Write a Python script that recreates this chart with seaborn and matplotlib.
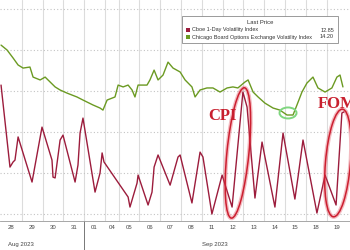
import matplotlib
matplotlib.use("Agg")
import matplotlib.pyplot as plt
import matplotlib.transforms as mtransforms
from matplotlib.patches import Ellipse, Rectangle
import pandas as pd
import seaborn as sns

# ---- data (x = session position, one unit per trading day; Sep 04 is a short holiday session)
day_labels = ["28", "29", "30", "31", "01", "04", "05", "06", "07", "08",
              "11", "12", "13", "14", "15", "18", "19"]
day_widths = [1, 1, 1, 1, 1, 0.65, 1, 1, 1, 1, 1, 1, 1, 1, 1, 1, 1]
month_labels = ["Aug 2023", "Sep 2023"]
month_first_day = [0, 4]

vix_t = [0.0, 0.29, 0.58, 0.82, 1.06, 1.39, 1.54, 1.88, 2.12, 2.36, 2.60, 2.84, 3.17,
         3.65, 3.94, 4.42, 4.76, 4.90, 5.10, 5.48, 5.63, 5.87, 6.11, 6.30, 6.44, 6.59,
         7.02, 7.16, 7.36, 7.55, 7.79, 8.03, 8.27, 8.61, 8.85, 9.18, 9.33, 9.57, 9.90,
         10.19, 10.53, 10.87, 11.15, 11.39, 11.73, 11.88, 12.12, 12.36, 12.69, 13.08,
         13.41, 13.75, 14.04, 14.23, 14.47, 14.71, 15.00, 15.24, 15.58, 15.91, 16.15,
         16.30, 16.44]
vix_v = [16.24, 16.00, 15.61, 15.27, 15.12, 15.17, 14.68, 14.54, 14.68, 14.44, 14.20,
         14.05, 13.90, 13.71, 13.56, 13.32, 13.17, 13.07, 13.56, 13.71, 14.29, 14.20,
         14.29, 14.05, 13.71, 14.29, 14.29, 14.54, 15.02, 14.54, 14.78, 15.41, 15.12,
         14.93, 14.54, 14.20, 13.71, 14.05, 14.15, 14.15, 13.95, 14.15, 14.20, 14.15,
         14.44, 14.54, 13.95, 13.71, 13.41, 13.17, 13.07, 12.83, 12.83, 13.32, 13.95,
         14.39, 14.68, 14.15, 13.95, 14.15, 14.68, 14.78, 14.20]

vix1d_t = [0.0, 0.43, 0.58, 0.67, 0.82, 1.49, 1.97, 2.45, 2.50, 2.60, 2.84, 2.98, 3.56,
           3.70, 3.80, 3.94, 4.52, 4.76, 4.86, 4.95, 6.11, 6.20, 6.54, 6.59, 7.07, 7.26,
           7.36, 7.55, 8.13, 8.51, 8.61, 9.18, 9.57, 9.71, 10.14, 10.63, 11.11, 11.63,
           11.83, 12.21, 12.55, 12.69, 13.17, 13.56, 14.13, 14.28, 14.52, 15.19, 15.58,
           16.11, 16.39, 16.49]
vix1d_v = [14.29, 10.29, 10.54, 10.63, 11.76, 9.56, 12.24, 10.63, 9.80, 9.76, 11.61,
           11.85, 9.56, 10.39, 11.95, 12.68, 9.07, 10.00, 10.98, 10.54, 8.83, 8.34, 9.51,
           9.90, 8.44, 9.07, 10.29, 10.88, 9.41, 10.78, 10.88, 8.54, 11.02, 10.78, 8.00,
           9.90, 8.34, 13.95, 13.22, 8.78, 11.51, 10.78, 8.34, 11.95, 8.73, 9.80, 11.61,
           8.05, 9.90, 8.44, 12.93, 12.98]

series_names = ["Cboe 1-Day Volatility Index",
                "Chicago Board Options Exchange Volatility Index"]
last_prices = ["12.85", "14.20"]
y_grid = [8, 10, 12, 14, 16, 18]

RED = "#9c1c3c"
GREEN = "#6b9a22"

df = pd.concat([
    pd.DataFrame({"t": vix1d_t, "v": vix1d_v, "s": series_names[0]}),
    pd.DataFrame({"t": vix_t, "v": vix_v, "s": series_names[1]}),
])

sns.set_style("white")
plt.rcParams["font.family"] = ["Liberation Sans", "DejaVu Sans"]

fig = plt.figure(figsize=(3.5, 2.5), dpi=100)
ax = fig.add_axes([0.0, 0.116, 1.0, 0.884])

# grid
edges = [0.0]
for w in day_widths:
    edges.append(edges[-1] + w)
centers = [(edges[i] + edges[i + 1]) / 2 for i in range(len(day_widths))]
for e in edges[1:-1]:
    ax.axvline(e, color="#dcdcdc", lw=0.8, zorder=0)
for g in y_grid:
    ax.axhline(g, color="#c4c4c4", lw=0.8, ls=(0, (1, 2)), zorder=0)

sns.lineplot(data=df, x="t", y="v", hue="s", palette=[RED, GREEN],
             estimator=None, sort=False, legend=False, lw=1.0, ax=ax)

ax.set_xlim(-0.05, 16.78)
ax.set_ylim(7.66, 18.44)
ax.set_xlabel("")
ax.set_ylabel("")
ax.set_yticks([])
ax.set_xticks(edges[1:-1])
ax.set_xticklabels([])
ax.tick_params(axis="x", which="major", length=3, color="#cccccc", width=0.6)
ax.set_xticks(centers, minor=True)
ax.set_xticklabels(day_labels, minor=True, fontsize=4.3, color="#444444")
ax.tick_params(axis="x", which="minor", length=0, pad=3)
for s in ["top", "left", "right"]:
    ax.spines[s].set_visible(False)
ax.spines["bottom"].set_color("#999999")
ax.spines["bottom"].set_linewidth(0.6)

# month labels & separator
trans = mtransforms.blended_transform_factory(ax.transData, ax.transAxes)
month_x = [0.98, 10.29]
for xi, lab in zip(month_x, month_labels):
    ax.text(xi, -0.095, lab, transform=trans, ha="center", va="top",
            fontsize=4.3, color="#444444")
ax.plot([edges[4], edges[4]], [0, -0.14], transform=trans, color="#777777",
        lw=0.7, clip_on=False)

# annotations
def ell(cx, cy, w_in, h_in, ang, color, lw, alpha=1.0):
    tr = fig.dpi_scale_trans + mtransforms.ScaledTranslation(cx, cy, ax.transData)
    ax.add_patch(Ellipse((0, 0), w_in, h_in, angle=ang, transform=tr, fill=False,
                         ec=color, lw=lw, alpha=alpha, zorder=5))

for (cx, cy, w, h, a) in [(11.39, 10.98, 0.22, 1.31, -5.7), (16.2, 10.49, 0.25, 1.08, -4.8)]:
    ell(cx, cy, w, h, a, "#e04050", 3.0, 0.35)
    ell(cx, cy, w, h, a, "#cc1f30", 1.1)
ell(13.8, 12.93, 0.17, 0.11, 0, "#7fd67f", 1.4)

ax.text(10.63, 12.78, "CPI", color="#c8202f", fontsize=12, fontweight="bold",
        family="Liberation Serif", ha="center", va="center", zorder=6)
ax.text(15.24, 13.37, "FOMC", color="#c8202f", fontsize=12, fontweight="bold",
        family="Liberation Serif", ha="left", va="center", zorder=6, clip_on=False)

# legend box (figure pixels -> fractions)
W, H = 350, 250
def fx(px): return px / W
def fy(py): return 1 - py / H
fig.patches.append(Rectangle((fx(182), fy(43)), fx(338) - fx(182), fy(16) - fy(43),
                             transform=fig.transFigure, fc="white", ec="#8a8a8a",
                             lw=0.6, zorder=10))
fig.text(fx(260), fy(23), "Last Price", ha="center", va="center", fontsize=4.2,
         color="#333333", zorder=11)
for i, (name, val, col) in enumerate(zip(series_names, last_prices, [RED, GREEN])):
    yy = 30 + 7 * i
    fig.patches.append(Rectangle((fx(185.5), fy(yy + 2)), fx(4), 4 / H,
                                 transform=fig.transFigure, fc=col, ec="none", zorder=11))
    fig.text(fx(191.5), fy(yy), name, ha="left", va="center", fontsize=4.0,
             color="#333333", zorder=11)
    fig.text(fx(334), fy(yy), val, ha="right", va="center", fontsize=4.0,
             color="#333333", zorder=11)

fig.savefig("out.png", dpi=100, facecolor="white")
